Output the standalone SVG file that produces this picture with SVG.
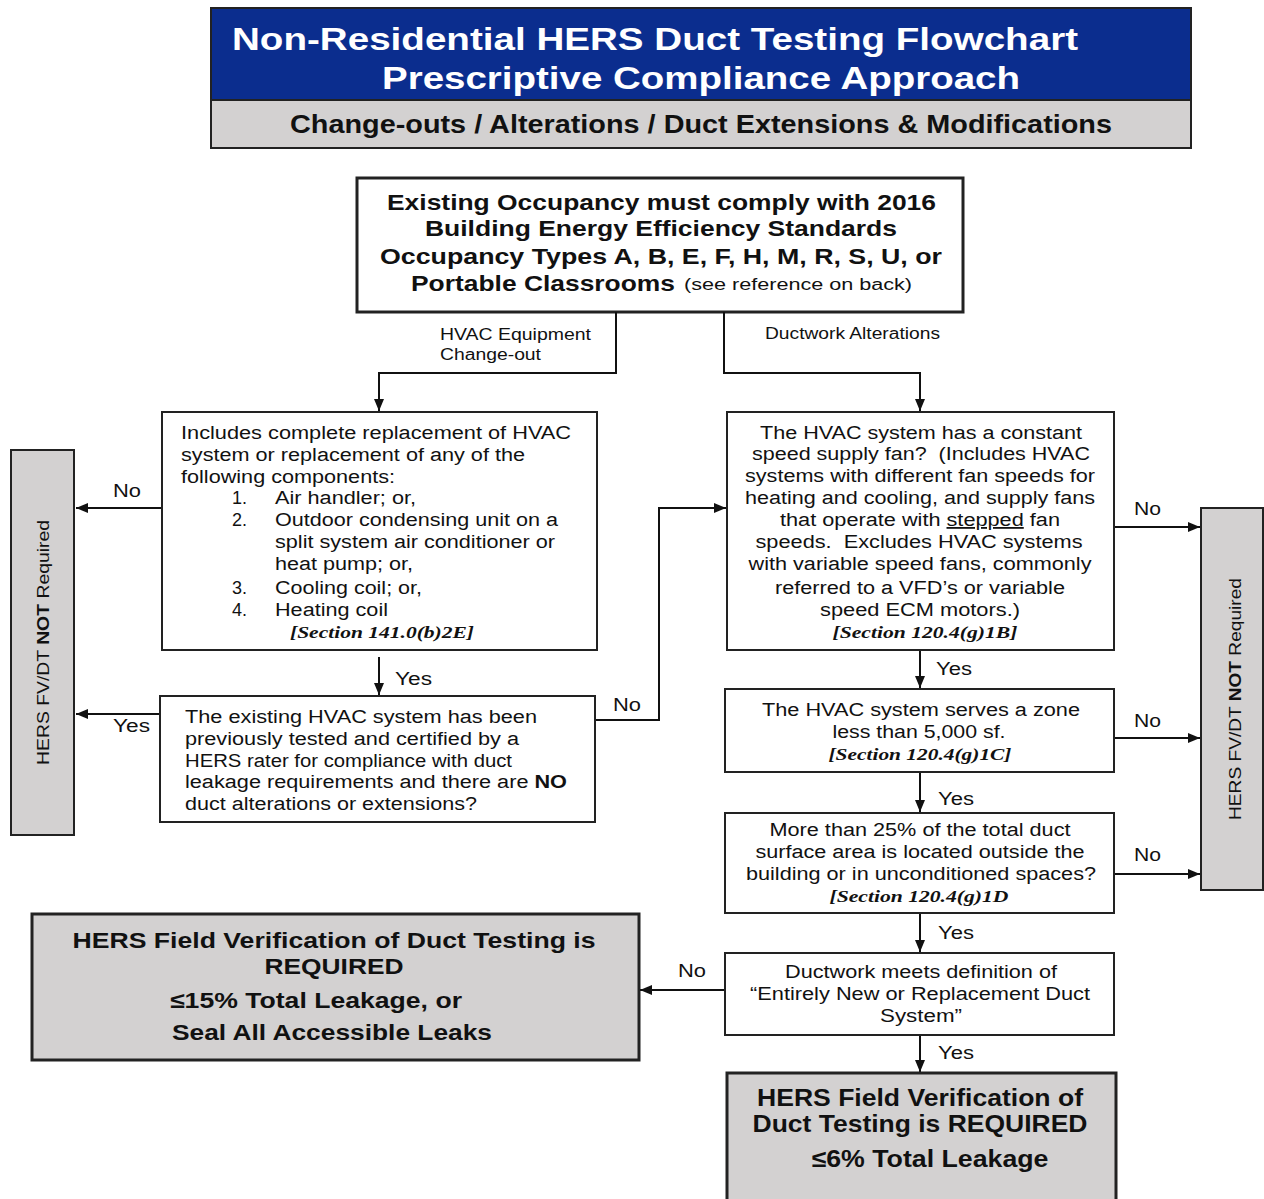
<svg xmlns="http://www.w3.org/2000/svg" width="1264" height="1199" viewBox="0 0 1264 1199">
<style>
text{font-family:"Liberation Sans",Arial,sans-serif;fill:#111}
.t{font-size:18px}
.b{font-weight:bold}
.lbl{font-size:18px}
.sec{font-family:"Liberation Serif","Times New Roman",serif;font-style:italic;font-weight:bold;font-size:17px}
.box{fill:#fff;stroke:#222;stroke-width:2}
.gbox{fill:#d3d1d1;stroke:#222;stroke-width:2.5}
.con{fill:none;stroke:#111;stroke-width:2}
</style>
<defs>
<marker id="ah" markerUnits="userSpaceOnUse" markerWidth="12" markerHeight="10" refX="12" refY="5" orient="auto">
<path d="M0,0 L12,5 L0,10 z" fill="#111"/>
</marker>
</defs>

<g id="header">
<rect x="211" y="8" width="980" height="92" fill="#0b2d8e" stroke="#222" stroke-width="2"/>
<rect x="211" y="100" width="980" height="48" fill="#d3d1d1" stroke="#222" stroke-width="2"/>
<text x="232" y="50" class="b" style="font-size:31px;fill:#fff" textLength="846" lengthAdjust="spacingAndGlyphs">Non-Residential HERS Duct Testing Flowchart</text>
<text x="382" y="89" class="b" style="font-size:31px;fill:#fff" textLength="638" lengthAdjust="spacingAndGlyphs">Prescriptive Compliance Approach</text>
<text x="290" y="133" class="b" style="font-size:25px" textLength="822" lengthAdjust="spacingAndGlyphs">Change-outs / Alterations / Duct Extensions &amp; Modifications</text>
</g>

<g id="start">
<rect x="357" y="178" width="606" height="134" fill="#fff" stroke="#222" stroke-width="3"/>
<text x="387" y="210" class="b" style="font-size:22px" textLength="549" lengthAdjust="spacingAndGlyphs">Existing Occupancy must comply with 2016</text>
<text x="425" y="236" class="b" style="font-size:22px" textLength="472" lengthAdjust="spacingAndGlyphs">Building Energy Efficiency Standards</text>
<text x="380" y="264" class="b" style="font-size:22px" textLength="562" lengthAdjust="spacingAndGlyphs">Occupancy Types A, B, E, F, H, M, R, S, U, or</text>
<text x="411" y="291" class="b" style="font-size:22px" textLength="264" lengthAdjust="spacingAndGlyphs">Portable Classrooms</text>
<text x="684" y="290" style="font-size:16px" textLength="228" lengthAdjust="spacingAndGlyphs">(see reference on back)</text>
</g>

<g id="connectors">
<path class="con" d="M616,312 V373 H379 V411" marker-end="url(#ah)"/>
<path class="con" d="M724,312 V373 H920 V411" marker-end="url(#ah)"/>
<path class="con" d="M162,508 H76" marker-end="url(#ah)"/>
<path class="con" d="M379,657 V695" marker-end="url(#ah)"/>
<path class="con" d="M160,714 H76" marker-end="url(#ah)"/>
<path class="con" d="M595,720 H659 V508 H726" marker-end="url(#ah)"/>
<path class="con" d="M1114,527 H1200" marker-end="url(#ah)"/>
<path class="con" d="M920,650 V688" marker-end="url(#ah)"/>
<path class="con" d="M1114,738 H1200" marker-end="url(#ah)"/>
<path class="con" d="M920,772 V812" marker-end="url(#ah)"/>
<path class="con" d="M1114,874 H1200" marker-end="url(#ah)"/>
<path class="con" d="M920,913 V952" marker-end="url(#ah)"/>
<path class="con" d="M725,990 H640" marker-end="url(#ah)"/>
<path class="con" d="M920,1035 V1072" marker-end="url(#ah)"/>
<text x="440" y="340" style="font-size:16px" textLength="151" lengthAdjust="spacingAndGlyphs">HVAC Equipment</text>
<text x="440" y="360" style="font-size:16px" textLength="101" lengthAdjust="spacingAndGlyphs">Change-out</text>
<text x="765" y="339" style="font-size:16px" textLength="175" lengthAdjust="spacingAndGlyphs">Ductwork Alterations</text>
<text x="113" y="497" class="lbl" textLength="28" lengthAdjust="spacingAndGlyphs">No</text>
<text x="395" y="685" class="lbl" textLength="37" lengthAdjust="spacingAndGlyphs">Yes</text>
<text x="113" y="732" class="lbl" textLength="37" lengthAdjust="spacingAndGlyphs">Yes</text>
<text x="613" y="711" class="lbl" textLength="28" lengthAdjust="spacingAndGlyphs">No</text>
<text x="1134" y="515" class="lbl" textLength="27" lengthAdjust="spacingAndGlyphs">No</text>
<text x="936" y="675" class="lbl" textLength="36" lengthAdjust="spacingAndGlyphs">Yes</text>
<text x="1134" y="727" class="lbl" textLength="27" lengthAdjust="spacingAndGlyphs">No</text>
<text x="938" y="805" class="lbl" textLength="36" lengthAdjust="spacingAndGlyphs">Yes</text>
<text x="1134" y="861" class="lbl" textLength="27" lengthAdjust="spacingAndGlyphs">No</text>
<text x="938" y="939" class="lbl" textLength="36" lengthAdjust="spacingAndGlyphs">Yes</text>
<text x="678" y="977" class="lbl" textLength="28" lengthAdjust="spacingAndGlyphs">No</text>
<text x="938" y="1059" class="lbl" textLength="36" lengthAdjust="spacingAndGlyphs">Yes</text>
</g>

<g id="left-bar">
<rect x="11" y="450" width="63" height="385" class="gbox" style="stroke-width:2"/>
<text transform="translate(49,765) rotate(-90)" style="font-size:17px" textLength="245" lengthAdjust="spacingAndGlyphs">HERS FV/DT <tspan class="b">NOT</tspan> Required</text>
</g>

<g id="right-bar">
<rect x="1201" y="508" width="62" height="382" class="gbox" style="stroke-width:2"/>
<text transform="translate(1241,820) rotate(-90)" style="font-size:17px" textLength="242" lengthAdjust="spacingAndGlyphs">HERS FV/DT <tspan class="b">NOT</tspan> Required</text>
</g>

<g id="equipment-box">
<rect x="162" y="412" width="435" height="238" class="box"/>
<text class="t" x="181" y="439" textLength="390" lengthAdjust="spacingAndGlyphs">Includes complete replacement of HVAC</text>
<text class="t" x="181" y="461" textLength="344" lengthAdjust="spacingAndGlyphs">system or replacement of any of the</text>
<text class="t" x="181" y="483" textLength="214" lengthAdjust="spacingAndGlyphs">following components:</text>
<text class="t" x="232" y="504">1.</text>
<text class="t" x="275" y="504" textLength="141" lengthAdjust="spacingAndGlyphs">Air handler; or,</text>
<text class="t" x="232" y="526">2.</text>
<text class="t" x="275" y="526" textLength="283" lengthAdjust="spacingAndGlyphs">Outdoor condensing unit on a</text>
<text class="t" x="275" y="548" textLength="280" lengthAdjust="spacingAndGlyphs">split system air conditioner or</text>
<text class="t" x="275" y="570" textLength="138" lengthAdjust="spacingAndGlyphs">heat pump; or,</text>
<text class="t" x="232" y="594">3.</text>
<text class="t" x="275" y="594" textLength="147" lengthAdjust="spacingAndGlyphs">Cooling coil; or,</text>
<text class="t" x="232" y="616">4.</text>
<text class="t" x="275" y="616" textLength="113" lengthAdjust="spacingAndGlyphs">Heating coil</text>
<text class="sec" x="290" y="638" textLength="184" lengthAdjust="spacingAndGlyphs">[Section 141.0(b)2E]</text>
</g>

<g id="tested-box">
<rect x="160" y="696" width="435" height="126" class="box"/>
<text class="t" x="185" y="723" textLength="352" lengthAdjust="spacingAndGlyphs">The existing HVAC system has been</text>
<text class="t" x="185" y="745" textLength="334" lengthAdjust="spacingAndGlyphs">previously tested and certified by a</text>
<text class="t" x="185" y="767" textLength="327" lengthAdjust="spacingAndGlyphs">HERS rater for compliance with duct</text>
<text class="t" x="185" y="788" textLength="382" lengthAdjust="spacingAndGlyphs">leakage requirements and there are <tspan class="b">NO</tspan></text>
<text class="t" x="185" y="810" textLength="292" lengthAdjust="spacingAndGlyphs">duct alterations or extensions?</text>
</g>

<g id="fan-box">
<rect x="727" y="412" width="387" height="238" class="box"/>
<g class="t" text-anchor="middle">
<text class="t" x="921" y="439" textLength="322" lengthAdjust="spacingAndGlyphs">The HVAC system has a constant</text>
<text class="t" x="921" y="460" textLength="338" lengthAdjust="spacingAndGlyphs" xml:space="preserve">speed supply fan?  (Includes HVAC</text>
<text class="t" x="920" y="482" textLength="350" lengthAdjust="spacingAndGlyphs">systems with different fan speeds for</text>
<text class="t" x="920" y="504" textLength="350" lengthAdjust="spacingAndGlyphs">heating and cooling, and supply fans</text>
<text class="t" x="920" y="526" textLength="280" lengthAdjust="spacingAndGlyphs">that operate with <tspan text-decoration="underline">stepped</tspan> fan</text>
<text class="t" x="919" y="548" textLength="327" lengthAdjust="spacingAndGlyphs" xml:space="preserve">speeds.  Excludes HVAC systems</text>
<text class="t" x="920" y="570" textLength="343" lengthAdjust="spacingAndGlyphs">with variable speed fans, commonly</text>
<text class="t" x="920" y="594" textLength="290" lengthAdjust="spacingAndGlyphs">referred to a VFD’s or variable</text>
<text class="t" x="920" y="616" textLength="200" lengthAdjust="spacingAndGlyphs">speed ECM motors.)</text>
<text class="sec" x="925" y="638" textLength="185" lengthAdjust="spacingAndGlyphs">[Section 120.4(g)1B]</text>
</g>
</g>

<g id="zone-box">
<rect x="725" y="689" width="389" height="83" class="box"/>
<g text-anchor="middle">
<text class="t" x="921" y="716" textLength="318" lengthAdjust="spacingAndGlyphs">The HVAC system serves a zone</text>
<text class="t" x="919" y="738" textLength="173" lengthAdjust="spacingAndGlyphs">less than 5,000 sf.</text>
<text class="sec" x="920" y="760" textLength="183" lengthAdjust="spacingAndGlyphs">[Section 120.4(g)1C]</text>
</g>
</g>

<g id="surface-box">
<rect x="725" y="813" width="389" height="100" class="box"/>
<g text-anchor="middle">
<text class="t" x="920" y="836" textLength="301" lengthAdjust="spacingAndGlyphs">More than 25% of the total duct</text>
<text class="t" x="920" y="858" textLength="329" lengthAdjust="spacingAndGlyphs">surface area is located outside the</text>
<text class="t" x="921" y="880" textLength="350" lengthAdjust="spacingAndGlyphs">building or in unconditioned spaces?</text>
<text class="sec" x="919" y="902" textLength="179" lengthAdjust="spacingAndGlyphs">[Section 120.4(g)1D</text>
</g>
</g>

<g id="definition-box">
<rect x="725" y="953" width="389" height="82" class="box"/>
<g text-anchor="middle">
<text class="t" x="921" y="978" textLength="272" lengthAdjust="spacingAndGlyphs">Ductwork meets definition of</text>
<text class="t" x="920" y="1000" textLength="340" lengthAdjust="spacingAndGlyphs">“Entirely New or Replacement Duct</text>
<text class="t" x="921" y="1022" textLength="82" lengthAdjust="spacingAndGlyphs">System”</text>
</g>
</g>

<g id="required-15">
<rect x="32" y="914" width="607" height="146" class="gbox" style="stroke-width:3"/>
<g class="b" text-anchor="middle" style="font-size:22px">
<text x="334" y="948" textLength="523" lengthAdjust="spacingAndGlyphs">HERS Field Verification of Duct Testing is</text>
<text x="334" y="974" textLength="139" lengthAdjust="spacingAndGlyphs">REQUIRED</text>
<text x="316" y="1008" textLength="292" lengthAdjust="spacingAndGlyphs">≤15% Total Leakage, or</text>
<text x="332" y="1040" textLength="320" lengthAdjust="spacingAndGlyphs">Seal All Accessible Leaks</text>
</g>
</g>

<g id="required-6">
<rect x="727" y="1073" width="389" height="130" class="gbox" style="stroke-width:3"/>
<g class="b" text-anchor="middle" style="font-size:24px">
<text x="920" y="1106" textLength="326" lengthAdjust="spacingAndGlyphs">HERS Field Verification of</text>
<text x="920" y="1132" textLength="335" lengthAdjust="spacingAndGlyphs">Duct Testing is REQUIRED</text>
<text x="930" y="1167" textLength="237" lengthAdjust="spacingAndGlyphs">≤6% Total Leakage</text>
</g>
</g>
</svg>
